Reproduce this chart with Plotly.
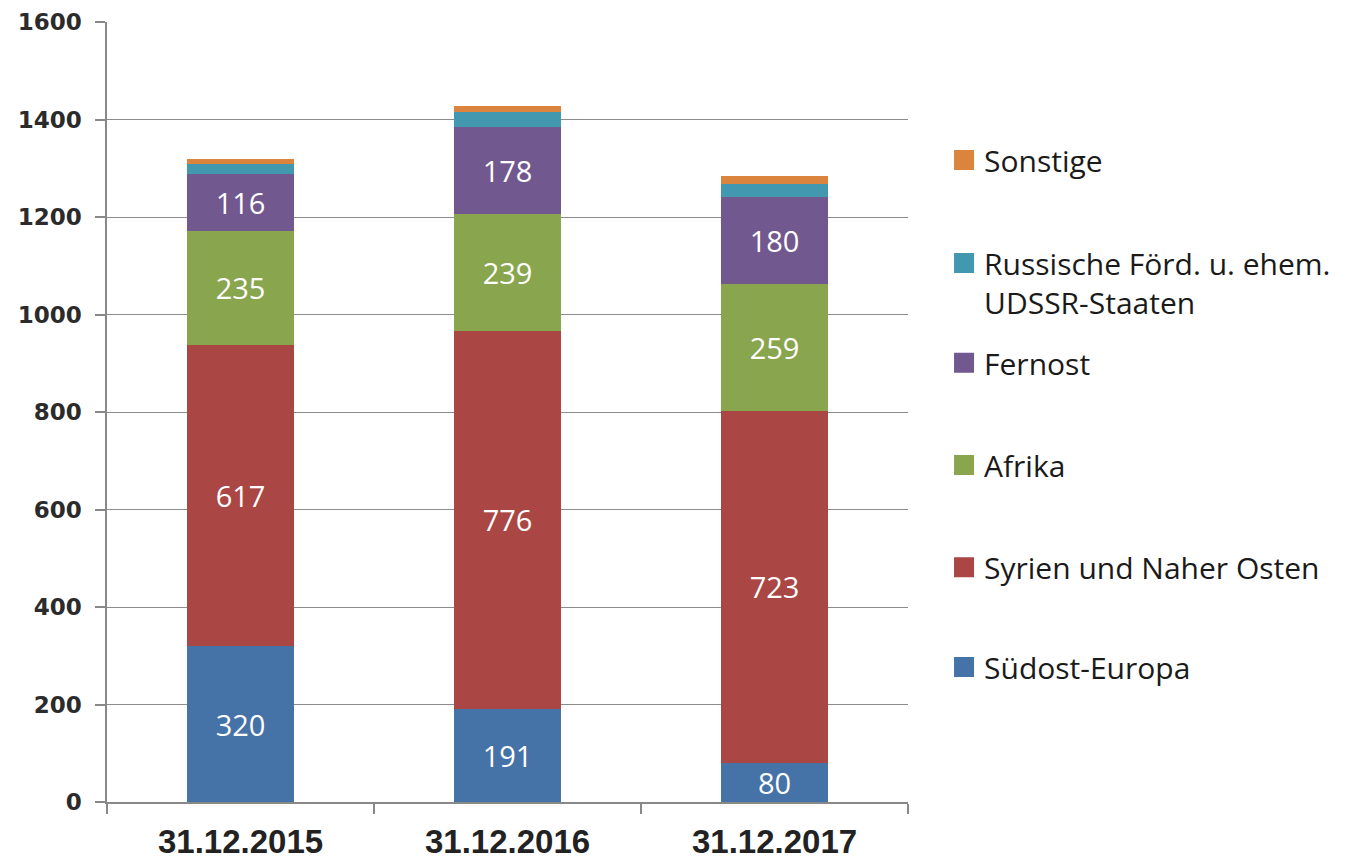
import plotly.graph_objects as go

categories = ["31.12.2015", "31.12.2016", "31.12.2017"]
series_names = [
    "Südost-Europa",
    "Syrien und Naher Osten",
    "Afrika",
    "Fernost",
    "Russische Förd. u. ehem.<br>UDSSR-Staaten",
    "Sonstige",
]
suedost = [320, 191, 80]
syrien = [617, 776, 723]
afrika = [235, 239, 259]
fernost = [116, 178, 180]
russland = [20, 31, 25]
sonstige = [11, 12, 18]
series_values = [suedost, syrien, afrika, fernost, russland, sonstige]
show_labels = [True, True, True, True, False, False]
colors = ["#4572A7", "#AA4643", "#89A54E", "#71588F", "#4198AF", "#DB843D"]
y_ticks = [0, 200, 400, 600, 800, 1000, 1200, 1400, 1600]
# legend entry vertical positions (paper fraction), bottom series first
legend_y = [0.173, 0.301, 0.432, 0.563, 0.666, 0.823]

fig = go.Figure()
for i, (name, vals) in enumerate(zip(series_names, series_values)):
    fig.add_trace(go.Bar(
        x=categories, y=vals, name=name,
        marker=dict(color=colors[i], line=dict(width=0)),
        text=[str(v) for v in vals] if show_labels[i] else None,
        textposition="inside" if show_labels[i] else "none",
        insidetextanchor="middle",
        textangle=0,
        constraintext="none",
        textfont=dict(color="white", size=29, family="Open Sans"),
        showlegend=False,
        hoverinfo="skip",
    ))

legend_font = dict(size=30, family="Open Sans", color="#1a1a1a")
layout_legends = {}
for i, name in enumerate(series_names):
    key = "legend" if i == 0 else f"legend{i + 1}"
    fig.add_trace(go.Scatter(
        x=[None], y=[None], mode="markers", name=name,
        marker=dict(symbol="square", size=16, color=colors[i],
                    line=dict(color=colors[i], width=4)),
        legend=key, showlegend=True, hoverinfo="skip",
    ))
    layout_legends[key] = dict(
        x=1.045, y=legend_y[i], xanchor="left", yanchor="middle",
        font=legend_font, valign="top", bgcolor="rgba(0,0,0,0)",
        itemclick=False, itemdoubleclick=False,
    )

fig.update_layout(
    barmode="stack",
    bargap=0.6,
    width=1354, height=855,
    margin=dict(l=99, r=454, t=14, b=61),
    plot_bgcolor="white", paper_bgcolor="white",
    uniformtext=dict(mode=False),
    xaxis=dict(
        type="category",
        tickson="boundaries",
        ticks="outside", ticklen=10, tickcolor="#888", tickwidth=1.5,
        showline=True, linecolor="#888", linewidth=1.5,
        showgrid=False,
        tickfont=dict(size=33, family="Liberation Sans, Arial", color="#222", weight="bold"),
        ticklabelstandoff=10,
        range=[-0.5, 2.5],
        automargin=False,
    ),
    yaxis=dict(
        range=[0, 1600],
        tickvals=y_ticks,
        ticks="outside", ticklen=10, tickcolor="#888", tickwidth=1.5,
        showline=True, linecolor="#888", linewidth=1.5,
        showgrid=True, gridcolor="#8c8c8c", gridwidth=1,
        zeroline=False,
        tickfont=dict(size=23, family="DejaVu Sans", color="#2b2b2b", weight="bold"),
        ticklabelstandoff=9,
        automargin=False,
    ),
    **layout_legends,
)

fig.write_html("out.html")
